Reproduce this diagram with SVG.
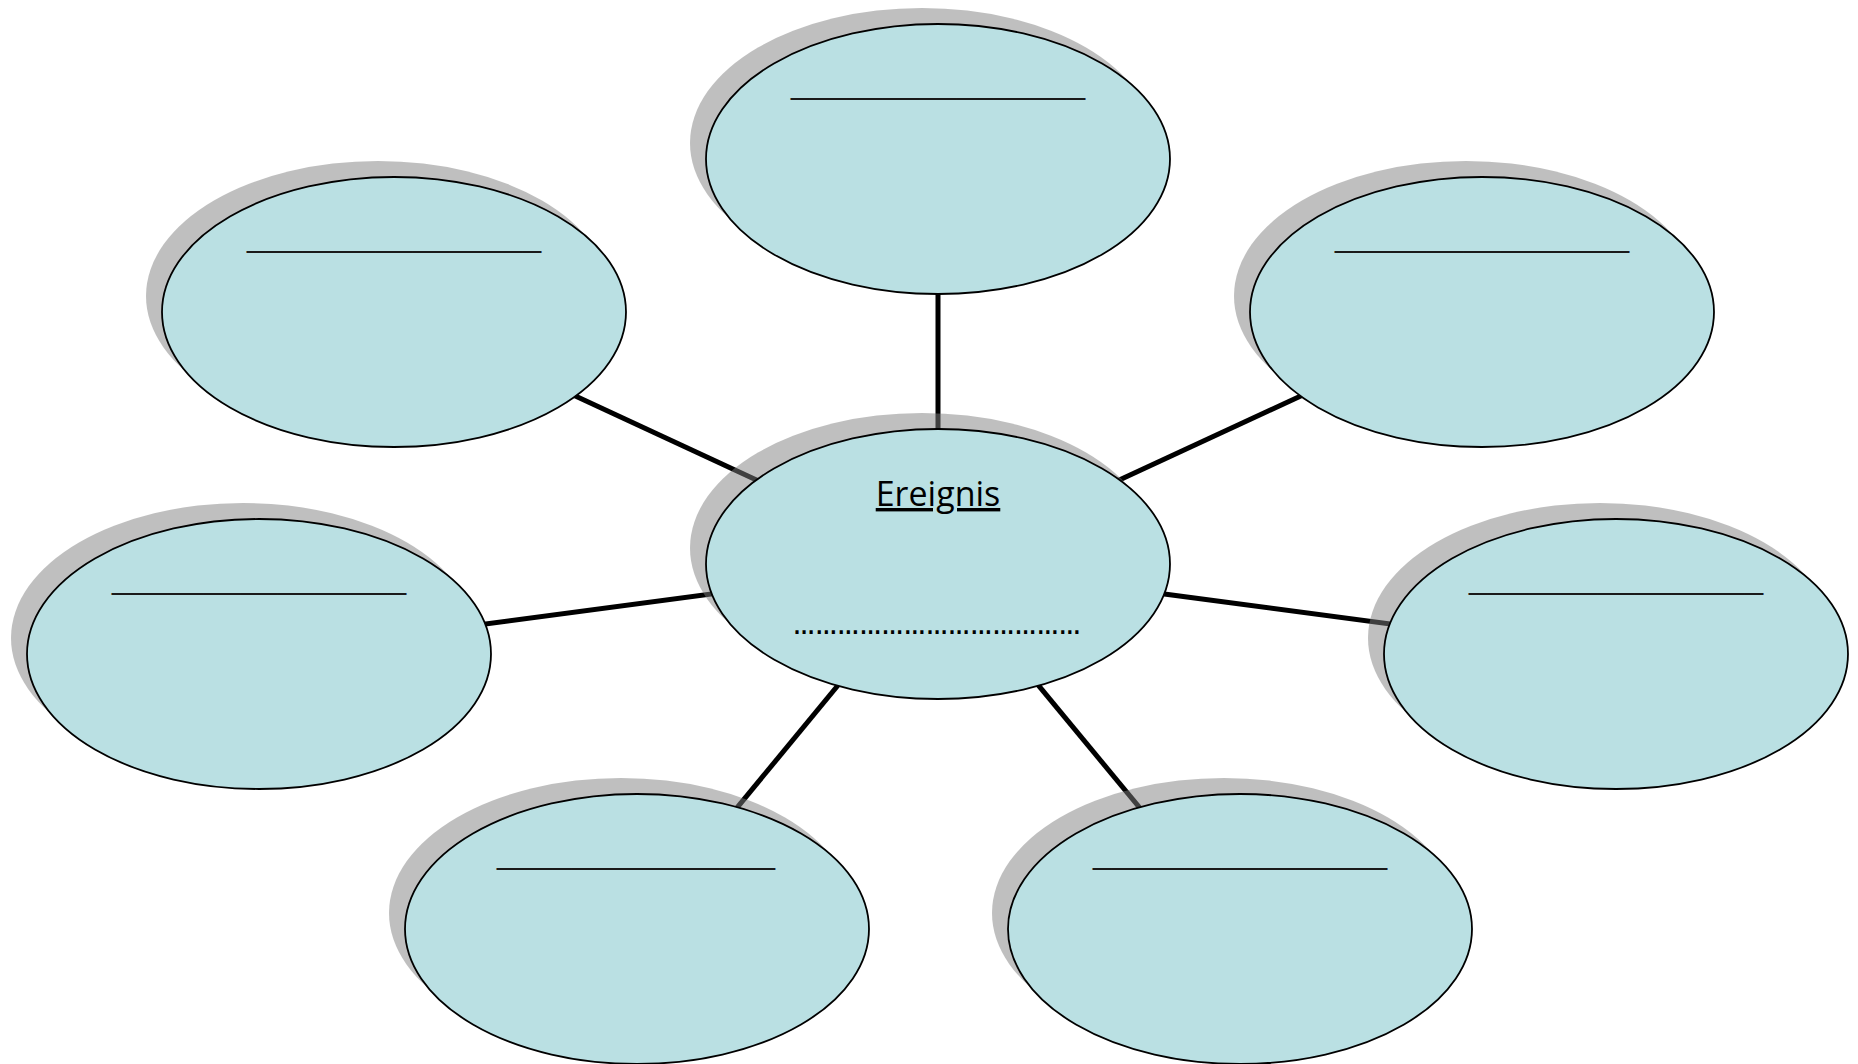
<svg xmlns="http://www.w3.org/2000/svg" width="1858" height="1064" viewBox="0 0 1858 1064">
<style>
.bg{fill:#ffffff}
.conn{stroke:#000000;stroke-width:5;fill:none}
.shadow{fill:#808080;fill-opacity:0.5}
.bubble{fill:#bae0e3;stroke:#000000;stroke-width:1.8}
.blank{font-family:"Liberation Sans",Arial,sans-serif;font-size:32px;fill:#1a1a1a}
.title{font-family:"Open Sans","Liberation Sans",sans-serif;font-size:34px;fill:#000000;text-decoration:underline}
.dots{font-family:"Liberation Sans",Arial,sans-serif;font-size:26px;font-weight:bold;fill:#000000}
</style>
<defs>
<g id="oval">
<ellipse class="shadow" cx="-16" cy="-16" rx="232" ry="135"/>
<ellipse class="bubble" cx="0" cy="0" rx="232" ry="135"/>
</g>
</defs>
<rect class="bg" x="0" y="0" width="1858" height="1064"/>
<g id="connectors">
<line class="conn" x1="938" y1="564" x2="938" y2="159"/>
<line class="conn" x1="938" y1="564" x2="394" y2="312"/>
<line class="conn" x1="938" y1="564" x2="1482" y2="312"/>
<line class="conn" x1="938" y1="564" x2="259" y2="654"/>
<line class="conn" x1="938" y1="564" x2="1616" y2="654"/>
<line class="conn" x1="938" y1="564" x2="637" y2="929"/>
<line class="conn" x1="938" y1="564" x2="1240" y2="929"/>
</g>
<g id="node-top" transform="translate(938,159)">
<use href="#oval"/>
<text class="blank" x="-147" y="-65" textLength="294" lengthAdjust="spacingAndGlyphs">________________</text>
</g>
<g id="node-top-left" transform="translate(394,312)">
<use href="#oval"/>
<text class="blank" x="-147" y="-65" textLength="294" lengthAdjust="spacingAndGlyphs">________________</text>
</g>
<g id="node-top-right" transform="translate(1482,312)">
<use href="#oval"/>
<text class="blank" x="-147" y="-65" textLength="294" lengthAdjust="spacingAndGlyphs">________________</text>
</g>
<g id="node-left" transform="translate(259,654)">
<use href="#oval"/>
<text class="blank" x="-147" y="-65" textLength="294" lengthAdjust="spacingAndGlyphs">________________</text>
</g>
<g id="node-right" transform="translate(1616,654)">
<use href="#oval"/>
<text class="blank" x="-147" y="-65" textLength="294" lengthAdjust="spacingAndGlyphs">________________</text>
</g>
<g id="node-bottom-left" transform="translate(637,929)">
<use href="#oval"/>
<text class="blank" x="-140" y="-65" textLength="278" lengthAdjust="spacingAndGlyphs">_______________</text>
</g>
<g id="node-bottom-right" transform="translate(1240,929)">
<use href="#oval"/>
<text class="blank" x="-147" y="-65" textLength="294" lengthAdjust="spacingAndGlyphs">________________</text>
</g>
<g id="node-center" transform="translate(938,564)">
<use href="#oval"/>
<text class="title" x="0" y="-58" text-anchor="middle">Ereignis</text>
<text class="dots" x="-145" y="70" textLength="288" lengthAdjust="spacingAndGlyphs">…………………………………</text>
</g>
</svg>
